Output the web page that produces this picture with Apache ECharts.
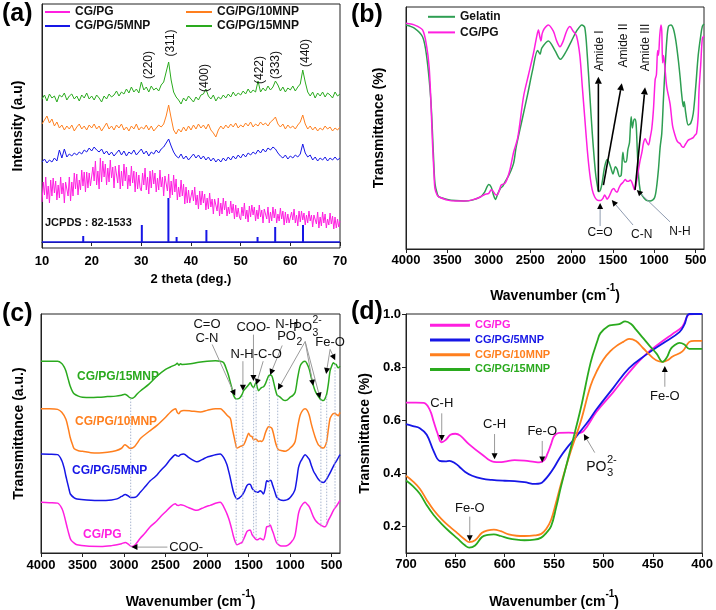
<!DOCTYPE html>
<html><head><meta charset="utf-8">
<script src="https://cdn.jsdelivr.net/npm/echarts@6/dist/echarts.min.js"></script>
<style>html,body{margin:0;padding:0;background:#fff}#c{width:716px;height:610px}</style>
</head><body><div id="c"></div>
<script>
const FONT = '"Liberation Sans", Arial, Helvetica, sans-serif';
const PINK = '#ff1fe0', BLUE = '#1616e6', ORANGE = '#ff7f1e', GREEN = '#2aaa1e', GEL = '#2e9e52';

// ---------- (a) XRD, 10..70 deg ----------
const xrdStart = 10, xrdStep = 0.5, xrdPGStep = 0.25;
const xrd15MNP = [143,147,141,148,144,146,140,147,145,149, 142,146,148,143,146,141,147,144,149,143,
 146,142,147,144,140,146,143,148,145,147, 151,146,150,148,153,149,155,150,153,149,
 160,152,155,150,156,152,154,151,157,160, 170,180,162,150,145,142,138,144,141,146,
 143,140,145,142,147,148,153,146,143,147, 141,145,143,147,144,148,145,150,146,149,
 147,151,148,153,149,152,150,161,150,154, 151,156,152,155,161,157,151,155,150,154,
 152,156,151,155,158,172,160,150,146,150, 144,149,146,150,145,149,147,144,150,146, 148];
const xrd10MNP = [118,122,126,119,123,116,120,114,117,112, 116,113,117,111,115,118,113,116,112,117,
 114,118,113,116,111,115,119,113,116,112, 117,114,118,112,115,111,116,113,118,112,
 115,113,117,112,116,111,114,117,115,118, 126,137,124,112,108,113,110,115,111,116,
 112,117,113,118,114,117,113,118,112,109, 105,112,116,113,117,114,118,115,119,114,
 117,115,119,116,120,115,118,116,120,117, 119,116,120,122,125,118,115,118,113,117,
 114,116,113,117,120,127,118,113,116,112, 115,111,114,112,116,113,115,111,114,112, 115];
const xrd5MNP = [80,83,79,82,80,84,81,92,84,93, 85,88,86,89,87,90,88,92,90,94,
 91,95,92,90,93,88,91,87,90,86, 89,92,87,91,86,90,88,92,87,90,
 93,88,91,86,90,88,92,89,93,95, 99,103,96,90,86,84,88,83,86,82,
 85,88,84,87,83,86,82,85,81,84, 80,83,80,84,81,85,82,86,83,87,
 84,88,85,89,87,90,88,92,89,93, 90,94,92,95,93,89,86,84,87,83,
 86,84,87,85,88,98,89,85,87,82, 85,81,84,82,85,81,84,82,85,82, 84];
const xrdPG = [
 40,60,47,65,43,56,39,62,46,64,49,61,42,57,44,65,48,59,39,60,
 61,46,65,41,60,46,69,53,68,47,62,52,72,56,70,50,70,54,69,56,
 54,75,61,81,57,71,53,84,60,81,65,78,57,74,60,82,64,75,54,76,
 75,59,77,53,71,56,78,61,75,53,67,56,76,59,71,50,70,53,67,54,
 51,69,57,74,52,65,48,71,54,72,58,69,50,64,52,72,55,65,46,66,
 66,51,68,44,61,47,67,50,63,42,55,45,62,46,58,38,55,39,52,39,
 37,52,41,55,37,47,33,51,37,51,39,48,32,44,33,49,35,43,28,43,
 42,31,44,26,39,28,44,32,41,26,35,28,41,29,38,23,37,25,34,25,
 22,35,26,39,23,32,20,36,25,37,27,35,21,32,23,37,25,32,19,33,
 34,23,35,19,30,21,35,24,33,19,28,21,34,23,31,17,30,19,28,19,
 18,30,22,33,19,27,16,31,20,31,22,29,17,27,19,31,21,27,15,27,
 28,18,30,14,25,16,30,19,28,14,23,17,29,18,26,13,25,14,23,15, 21];
const jcpdsAngles = [18.3, 30.1, 35.45, 37.1, 43.1, 53.4, 56.95, 62.55];
const jcpdsHeights = [6, 17, 44, 5, 12, 5, 15, 17];
const xrdPlanes = ['(220)','(311)','(400)','(422)','(333)','(440)'];
const xrdPlaneAngles = [31.5, 35.9, 42.8, 53.9, 57.05, 63.15];
const xrdPlaneLevels = [177, 199, 164, 172, 177, 189];

// ---------- (b) FTIR gelatin vs CG/PG ----------
const gelatinFTIR = [[4000,92.6],[3900,91.3],[3800,87.7],[3750,79.5],[3700,61.6],[3670,40],[3650,27],[3620,22.5],[3600,21.5],[3500,20.5],[3400,20],[3300,19.8],[3200,20.2],[3100,21.5],[3050,23.5],[3000,26.7],[2970,25.5],[2940,22],[2920,20.5],[2890,23],[2860,25],[2830,26],[2800,28],[2750,31],[2700,35.5],[2670,42],[2600,53],[2530,64],[2470,74],[2410,82],[2380,80.5],[2360,83],[2280,86],[2200,82],[2135,78.4],[2060,82],[2000,86],[1940,90],[1875,92.6],[1840,91.5],[1810,80],[1780,64],[1750,48],[1710,31.3],[1680,24.5],[1670,23.7],[1650,24.5],[1630,27.5],[1600,34],[1570,37],[1550,36],[1520,33],[1500,31],[1470,34],[1450,33],[1420,30],[1400,30.5],[1380,40],[1360,36],[1340,36],[1320,41],[1300,44],[1280,54.7],[1265,50],[1250,53],[1235,53.7],[1220,51.5],[1205,40],[1190,30],[1170,24],[1150,22.3],[1100,20.2],[1050,19.8],[1000,21],[975,25],[950,33],[930,42],[910,47.8],[890,62],[870,75],[850,86],[830,91.9],[800,92.6],[770,91],[740,86],[710,78],[690,71.5],[670,64],[650,58.8],[640,61],[620,56],[590,51.2],[560,52],[530,56],[500,67],[470,80],[440,88],[420,92],[400,93]];
const cgpgFTIR = [[4000,93.3],[3900,92.6],[3800,90.5],[3750,83.6],[3720,75],[3700,61.6],[3680,43.7],[3660,30],[3650,25],[3620,22],[3600,21.5],[3500,20.2],[3400,19.8],[3300,19.8],[3200,20.3],[3100,21.5],[3050,22.5],[3000,23],[2970,24.5],[2950,24],[2920,22.5],[2900,22.3],[2870,24.5],[2850,26.4],[2800,27.3],[2750,32],[2700,40],[2650,46],[2580,63],[2520,72],[2460,80.9],[2420,88],[2400,90.5],[2385,88],[2370,86],[2355,89],[2330,91],[2280,92.6],[2220,90],[2180,86],[2140,83.6],[2100,86],[2060,90],[2020,91.9],[1980,90],[1940,88],[1900,80],[1870,67],[1840,54],[1810,41],[1780,31],[1750,24.4],[1720,21.5],[1690,20.2],[1650,20],[1620,21],[1600,22.3],[1585,21.5],[1570,20.6],[1550,21.5],[1530,23],[1510,24.5],[1490,25],[1470,24],[1450,23.5],[1430,25],[1410,26.4],[1380,27.5],[1350,28.7],[1330,28],[1310,28],[1290,28.5],[1270,27.5],[1255,26],[1240,24.5],[1220,27],[1200,31],[1175,36],[1150,40],[1130,44],[1110,45.6],[1090,44],[1070,43],[1050,46],[1030,50],[1010,58],[990,70],[975,72],[960,82],[950,80],[935,88],[920,92.6],[910,90],[900,77],[890,80],[875,76],[850,67],[810,60],[780,51],[750,47],[730,45],[710,44],[690,43.6],[670,42.5],[650,42],[620,43.5],[590,45],[560,45.5],[530,46],[510,47],[490,47.8],[470,55],[460,65.7],[440,76],[420,87],[400,88]];

// ---------- (c) FTIR composites (offset, a.u.) ----------
const ftir15MNP = [[4000,195],[3900,195],[3800,195],[3750,192.7],[3720,189],[3700,185],[3670,176],[3650,170],[3620,164],[3600,161.7],[3550,159.5],[3500,158.4],[3400,158],[3300,158.4],[3200,159],[3100,159.5],[3030,160.5],[2990,161.5],[2960,160],[2930,158],[2900,157.4],[2870,159],[2840,162],[2800,165],[2700,171.7],[2600,180],[2500,186.7],[2420,190],[2380,191.5],[2360,193],[2340,191],[2320,192.5],[2300,191.7],[2200,192.4],[2100,194],[2000,195],[1900,195.5],[1840,195],[1800,193.4],[1760,185],[1740,180],[1720,173.4],[1700,167],[1680,160],[1650,156.7],[1620,157],[1600,158.4],[1580,161],[1560,165],[1520,169],[1500,171],[1480,173.4],[1460,170],[1440,168.4],[1420,172],[1410,173],[1395,168],[1380,165],[1360,167],[1340,168.4],[1320,169],[1300,171.7],[1280,176],[1260,180],[1240,181],[1220,180],[1200,174],[1180,166.7],[1160,161],[1150,160],[1120,158.4],[1090,156],[1060,155],[1030,156],[1000,158.4],[970,160],[940,163.4],[910,178],[880,190],[850,194],[820,195],[795,192],[770,186.7],[745,178],[720,170],[700,165],[680,161.7],[660,159],[640,156.7],[620,155.5],[600,155],[580,157],[560,161.7],[540,172],[520,185],[500,190],[480,193.4],[460,192],[445,191.7],[430,189],[420,188.4],[410,189],[400,190]];
const ftir10MNP = [[4000,146.7],[3900,146.7],[3800,146],[3750,143],[3700,136],[3670,126],[3650,118],[3620,110],[3600,106],[3550,104],[3500,103.4],[3400,102],[3300,101.7],[3200,102.5],[3100,104],[3030,106.5],[2990,110],[2960,108.5],[2930,106.5],[2900,106.7],[2870,108.5],[2840,112],[2800,116.7],[2700,123.5],[2600,130],[2500,138],[2440,143.4],[2400,146],[2380,146.7],[2360,143],[2340,141.7],[2320,144],[2280,145],[2200,144.5],[2080,143.4],[2000,145],[1900,146.7],[1840,146.7],[1800,144],[1760,140],[1720,136.7],[1700,128],[1680,120],[1660,112],[1640,106.7],[1600,108.4],[1560,110],[1520,118],[1500,121.7],[1480,119],[1460,118.4],[1440,115],[1420,116],[1400,115],[1380,113.4],[1360,114],[1340,113.4],[1320,116],[1300,121.7],[1280,126],[1260,128.4],[1240,128],[1220,126.7],[1200,121],[1180,113.4],[1160,108],[1140,105],[1100,104],[1060,103.4],[1030,104.5],[1000,106.7],[970,109],[940,113.4],[910,128],[880,140],[850,145],[820,146.7],[795,145],[770,140],[745,131],[720,123.4],[700,118],[680,113.4],[660,110],[640,108.4],[620,107],[600,106.7],[580,108.5],[560,113.4],[540,126],[520,136.7],[500,140],[480,141.7],[460,142],[445,141],[420,139.5],[410,141],[400,143]];
const ftir5MNP = [[4000,100.7],[3900,100.5],[3800,100],[3750,94],[3720,86],[3700,78],[3687,73.4],[3660,64],[3647,60],[3600,56],[3567,55],[3450,54],[3280,53.4],[3150,54],[3085,55],[3030,57.5],[2985,59.4],[2950,58],[2920,56.5],[2865,56.7],[2805,61.7],[2750,67],[2685,73.4],[2620,78],[2564,83.4],[2500,89],[2444,95],[2400,99],[2384,100],[2360,98.8],[2344,98.4],[2320,100],[2284,100.7],[2220,97],[2160,94],[2123,92.7],[2060,95],[2000,97.5],[1963,98.4],[1900,100],[1842,100.7],[1800,97],[1762,90],[1740,83],[1722,76.7],[1700,68],[1682,61.7],[1660,57],[1641,55],[1620,55.5],[1600,57],[1581,58.4],[1550,63],[1521,68.4],[1500,70],[1482,70],[1460,66],[1442,64],[1420,62.5],[1402,61.7],[1380,62],[1362,63.4],[1340,62],[1322,60],[1300,66],[1282,73.4],[1260,72.7],[1234,74],[1215,70],[1202,66.7],[1180,61],[1161,56.7],[1121,54],[1080,53.5],[1041,54],[1010,55.5],[981,58.4],[960,61],[940,65],[920,75],[900,86.7],[880,92],[860,95],[840,98],[820,100],[795,98],[768,95],[745,89],[720,83.4],[690,79],[660,75],[630,72.5],[599,71.7],[570,74],[539,78.4],[510,83],[479,88.4],[440,94],[400,100]];
const ftirPG = [[4000,51.7],[3900,51.2],[3800,50.7],[3747,45],[3720,38],[3687,26.7],[3660,18],[3640,13.4],[3600,10],[3567,8.4],[3450,7],[3280,6.7],[3150,7.5],[3085,8.4],[3030,9.5],[2985,10.7],[2950,9],[2920,7],[2900,6.7],[2865,8.4],[2805,15],[2750,20],[2685,26.7],[2620,31.5],[2564,36.7],[2500,42],[2444,46.7],[2384,50],[2360,48.5],[2344,48.4],[2320,49],[2284,48.4],[2220,46],[2160,44],[2123,43.4],[2060,45.5],[2000,47.5],[1963,48.4],[1900,50.5],[1842,51.7],[1800,47],[1762,40],[1740,35],[1722,30],[1700,23],[1682,16.7],[1660,11],[1641,8.4],[1620,9],[1600,10],[1581,10.7],[1550,16],[1521,21.7],[1500,23],[1482,23.4],[1460,19],[1442,16.7],[1420,14.5],[1402,13.4],[1380,14],[1362,15],[1340,14],[1322,13.4],[1300,19],[1282,26.7],[1260,27],[1241,28.4],[1220,24],[1202,20],[1180,14],[1161,10],[1121,7.4],[1080,7],[1041,7.4],[1010,9],[981,11.7],[960,14],[940,18.4],[920,29],[900,40],[880,45.5],[860,48.4],[840,50.5],[820,51.7],[795,49.5],[768,46.7],[745,42],[720,36.7],[690,32.5],[660,30],[630,28.4],[600,27],[580,26.7],[560,29],[539,33.4],[510,38],[479,43.4],[440,48],[400,53.4]];
const ftirSampleLabels = ['CG/PG/15MNP','CG/PG/10MNP','CG/PG/5MNP','CG/PG'];
const ftirSampleLabelPos = [[3567,179],[3590,134],[3627,84],[3494,19]];

// ---------- (d) FTIR zoom 700-400 ----------
const zoomPG = [[700,0.666],[690,0.666],[682,0.665],[676,0.64],[672,0.595],[668,0.55],[664,0.517],[660,0.525],[655,0.545],[650,0.549],[645,0.542],[636,0.509],[623,0.471],[611,0.443],[605,0.442],[600,0.444],[590,0.45],[580,0.448],[570,0.443],[565,0.441],[560,0.45],[557,0.471],[553,0.51],[550,0.54],[545,0.552],[535,0.553],[527,0.551],[520,0.56],[507,0.632],[490,0.706],[474,0.78],[457,0.848],[440,0.898],[430,0.925],[420,0.953],[413,0.999],[408,1.0],[400,1.0]];
const zoom5MNP = [[700,0.585],[693,0.578],[686,0.57],[679,0.545],[672,0.484],[666,0.447],[660,0.445],[656,0.447],[650,0.437],[646,0.425],[640,0.405],[633,0.391],[623,0.38],[613,0.375],[600,0.372],[590,0.371],[580,0.367],[569,0.36],[564,0.362],[560,0.373],[555,0.395],[550,0.422],[544,0.46],[537,0.496],[530,0.527],[524,0.555],[515,0.598],[507,0.641],[490,0.722],[474,0.796],[457,0.846],[440,0.889],[423,0.932],[418,0.96],[413,1.0],[400,1.0]];
const zoom10MNP = [[700,0.391],[693,0.37],[686,0.342],[679,0.3],[672,0.262],[664,0.228],[656,0.2],[648,0.175],[640,0.15],[636,0.141],[630,0.148],[623,0.176],[617,0.185],[611,0.188],[604,0.182],[596,0.17],[588,0.165],[580,0.164],[570,0.166],[563,0.172],[558,0.19],[553,0.225],[548,0.29],[543,0.36],[533,0.484],[523,0.595],[513,0.73],[506,0.79],[500,0.829],[493,0.86],[487,0.879],[480,0.895],[474,0.906],[467,0.898],[460,0.872],[450,0.835],[444,0.822],[440,0.82],[435,0.826],[430,0.84],[420,0.859],[413,0.895],[408,0.899],[400,0.899]];
const zoom15MNP = [[700,0.373],[693,0.352],[686,0.323],[679,0.28],[672,0.243],[664,0.21],[656,0.181],[648,0.155],[640,0.128],[636,0.12],[630,0.128],[623,0.16],[617,0.168],[611,0.17],[604,0.164],[596,0.155],[588,0.15],[580,0.148],[570,0.15],[563,0.158],[558,0.175],[553,0.201],[548,0.27],[543,0.35],[533,0.496],[523,0.644],[513,0.817],[506,0.9],[503,0.928],[495,0.955],[490,0.959],[484,0.962],[478,0.972],[472,0.962],[467,0.941],[460,0.91],[453,0.879],[446,0.85],[440,0.82],[436,0.835],[432,0.867],[428,0.882],[423,0.891],[418,0.885],[413,0.869],[400,0.869]];
const wnTicks = [4000,3500,3000,2500,2000,1500,1000,500];
const dTicksY = [0.2,0.4,0.6,0.8,1.0];

// ---------- annotations (data coordinates) ----------
const amideLabels = [['Amide I',1655,73.5],['Amide II',1374,75],['Amide III',1100,73.5]];
const amideArrows = [[1676,23.7,1676,71.2],[1615,26.4,1393,68.5],[1233,24.4,1112,66.8]];
const bCallTexts = [['C=O',1655,6.6],['C-N',1152,5.8],['N-H',690,7]];
const bCallArrows = [[1655,9.5,1655,19],[1257,9.9,1514,20.2],[810,11.2,1212,24.4]];
const cTexts = [['C=O',2002,232],['C-N',2002,218],['N-H-C-O',1409,202],['COO-',1442,229],['N-H',1040,232],['Fe-O',519,214],['COO-',2252,6]];
const cArrows = [[1939,212,1662,160],[1569,195,1569,165],[1442,222,1442,175],[1325,195,1409,171],[1096,211,1241,181],[819,215,1148,166],[819,215,723,170],[819,215,639,157],[519,207,567,182],[519,207,458,196],[2478,6,2911,6]];
const cGuides = [[2920,157,6],[1650,157,8],[1570,160,10],[1440,168,16],[1410,172,14],[1250,180,25],[1150,160,8],[630,156,27],[560,160,28],[460,192,45]];
const cPO2 = [930, 220], cPO3 = [737, 229];
const dTexts = [['C-H',663.8,0.663],['C-H',610.3,0.585],['Fe-O',562,0.559],['Fe-O',437.8,0.689],['Fe-O',635.4,0.268]];
const dArrows = [[663.8,0.626,663.8,0.522],[610.3,0.548,610.3,0.453],[562,0.522,562,0.441],[508.8,0.478,519.9,0.548],[437.8,0.726,437.8,0.804],[635.4,0.237,635.4,0.144]];
const dPO3 = [497, 0.422];

const xrdAt = (arr, step) => arr.map((v, i) => [xrdStart + i * step, v]);
const wnName = '{b|Wavenumber (cm}{s|-1}{b|)}';
const wnRich = {
  b: {fontSize: 14, fontWeight: 'bold', color: '#000', fontFamily: FONT, lineHeight: 20, verticalAlign: 'bottom'},
  s: {fontSize: 10, fontWeight: 'bold', color: '#000', fontFamily: FONT, lineHeight: 20, verticalAlign: 'top'}
};
const tickLab = (m) => ({fontSize: 13, fontWeight: 'bold', color: '#000', fontFamily: FONT, margin: m,
  formatter: v => String(v)});
const axLine = {show: true, lineStyle: {color: '#222', width: 1}};
const yName = (t, gap) => ({name: t, nameLocation: 'middle', nameGap: gap,
  nameTextStyle: {fontSize: 14, fontWeight: 'bold', color: '#000', fontFamily: FONT}});
const gridBox = {show: true, borderColor: '#222', borderWidth: 1, backgroundColor: 'transparent'};
const line = (name, xi, data, color, w, smooth) => ({type: 'line', name, xAxisIndex: xi, yAxisIndex: xi,
  data, symbol: 'none', smooth: smooth, lineStyle: {color, width: w}, itemStyle: {color}, silent: true, z: 3});
const legText = (fs, lh) => ({fontSize: fs, fontWeight: 'bold', color: '#111', fontFamily: FONT, lineHeight: lh});

const option = {
  animation: false,
  textStyle: {fontFamily: FONT},
  grid: [
    Object.assign({left: 42, top: 4, width: 298, height: 244}, gridBox),
    Object.assign({left: 406, top: 7, width: 298, height: 242}, gridBox),
    Object.assign({left: 41, top: 314, width: 299, height: 243}, gridBox),
    Object.assign({left: 406, top: 314, width: 298, height: 243}, gridBox)
  ],
  xAxis: [
    {gridIndex: 0, type: 'value', min: 10, max: 70, interval: 10, axisLine: axLine,
     axisTick: {length: 4, lineStyle: {color: '#222'}}, axisLabel: tickLab(7), splitLine: {show: false},
     name: '2 theta (deg.)', nameLocation: 'middle', nameGap: 25,
     nameTextStyle: {fontSize: 13, fontWeight: 'bold', color: '#000', fontFamily: FONT}},
    {gridIndex: 1, type: 'value', min: 400, max: 4000, inverse: true, axisLine: axLine,
     axisTick: {length: 4, customValues: wnTicks, lineStyle: {color: '#222'}},
     axisLabel: Object.assign(tickLab(5), {customValues: wnTicks}), splitLine: {show: false},
     name: wnName, nameLocation: 'middle', nameGap: 34, nameTextStyle: {rich: wnRich}},
    {gridIndex: 2, type: 'value', min: 400, max: 4000, inverse: true, axisLine: axLine,
     axisTick: {length: 4, customValues: wnTicks, lineStyle: {color: '#222'}},
     axisLabel: Object.assign(tickLab(6), {customValues: wnTicks}), splitLine: {show: false},
     name: wnName, nameLocation: 'middle', nameGap: 36, nameTextStyle: {rich: wnRich}},
    {gridIndex: 3, type: 'value', min: 400, max: 700, interval: 50, inverse: true, axisLine: axLine,
     axisTick: {length: 4, lineStyle: {color: '#222'}}, axisLabel: tickLab(5), splitLine: {show: false},
     name: wnName, nameLocation: 'middle', nameGap: 36, nameTextStyle: {rich: wnRich}}
  ],
  yAxis: [
    Object.assign({gridIndex: 0, type: 'value', min: -6, max: 238, axisLine: axLine, axisTick: {show: false},
     axisLabel: {show: false}, splitLine: {show: false}}, yName('Intensity (a.u)', 17)),
    Object.assign({gridIndex: 1, type: 'value', min: 0, max: 100, axisLine: axLine, axisTick: {show: false},
     axisLabel: {show: false}, splitLine: {show: false}}, yName('Transmittance (%)', 20)),
    Object.assign({gridIndex: 2, type: 'value', min: 0, max: 243, axisLine: axLine, axisTick: {show: false},
     axisLabel: {show: false}, splitLine: {show: false}}, yName('Transmittance (a.u.)', 15)),
    Object.assign({gridIndex: 3, type: 'value', min: 0.1, max: 1.0, axisLine: axLine,
     axisTick: {show: true, length: 4, customValues: dTicksY, lineStyle: {color: '#222'}},
     axisLabel: Object.assign(tickLab(5), {customValues: dTicksY, formatter: v => v.toFixed(1)}),
     splitLine: {show: false}}, yName('Transmittance (%)', 34))
  ],
  legend: [
    {left: 45, top: 5, padding: 0, orient: 'vertical', icon: 'rect', itemWidth: 25, itemHeight: 2, itemGap: 0,
     selectedMode: false, data: ['CG/PG', 'CG/PG/5MNP'], textStyle: legText(12, 14)},
    {left: 186, top: 5, padding: 0, orient: 'vertical', icon: 'rect', itemWidth: 26, itemHeight: 2, itemGap: 0,
     selectedMode: false, data: ['CG/PG/10MNP', 'CG/PG/15MNP'], textStyle: legText(12, 14)},
    {left: 428, top: 9, padding: 0, orient: 'vertical', icon: 'rect', itemWidth: 27, itemHeight: 2, itemGap: 0,
     selectedMode: false, data: ['Gelatin', 'CG/PG'], textStyle: legText(12, 15.6)},
    {left: 430, top: 318, padding: 0, orient: 'vertical', icon: 'rect', itemWidth: 40, itemHeight: 3, itemGap: 0,
     selectedMode: false, textStyle: legText(11, 14.7),
     data: [{name: 'CG/PG', textStyle: {color: PINK}}, {name: 'CG/PG/5MNP', textStyle: {color: BLUE}},
            {name: 'CG/PG/10MNP', textStyle: {color: ORANGE}}, {name: 'CG/PG/15MNP', textStyle: {color: GREEN}}]}
  ],
  series: [
    line('CG/PG', 0, xrdAt(xrdPG, xrdPGStep), PINK, 1, false),
    line('CG/PG/5MNP', 0, xrdAt(xrd5MNP, xrdStep), BLUE, 1, false),
    line('CG/PG/10MNP', 0, xrdAt(xrd10MNP, xrdStep), ORANGE, 1, false),
    line('CG/PG/15MNP', 0, xrdAt(xrd15MNP, xrdStep), GREEN, 1, false),
    {type: 'bar', name: 'JCPDS', xAxisIndex: 0, yAxisIndex: 0, barWidth: 2, silent: true,
     data: jcpdsAngles.map((a, i) => [a, jcpdsHeights[i]]), itemStyle: {color: BLUE},
     markLine: {silent: true, symbol: 'none', label: {show: false}, lineStyle: {color: BLUE, width: 1.5, type: 'solid'},
       data: [{yAxis: 0}]}},
    line('Gelatin', 1, gelatinFTIR, GEL, 1.5, 0.3),
    line('CG/PG', 1, cgpgFTIR, PINK, 1.5, 0.3),
    line('CG/PG/15MNP', 2, ftir15MNP, GREEN, 1.5, 0.3),
    line('CG/PG/10MNP', 2, ftir10MNP, ORANGE, 1.5, 0.3),
    line('CG/PG/5MNP', 2, ftir5MNP, BLUE, 1.5, 0.3),
    line('CG/PG', 2, ftirPG, PINK, 1.5, 0.3),
    line('CG/PG', 3, zoomPG, PINK, 1.8, 0.4),
    line('CG/PG/5MNP', 3, zoom5MNP, BLUE, 1.8, 0.4),
    line('CG/PG/10MNP', 3, zoom10MNP, ORANGE, 1.8, 0.4),
    line('CG/PG/15MNP', 3, zoom15MNP, GREEN, 1.8, 0.4)
  ]
};

const chart = echarts.init(document.getElementById('c'));
chart.setOption(option);

// ---------- annotation drawing through the axes ----------
const els = [];
const P = (g, x, y) => chart.convertToPixel({gridIndex: g}, [x, y]);
function txt(g, t, x, y, o) {
  o = o || {};
  const p = P(g, x, y);
  els.push({type: 'text', x: p[0], y: p[1], rotation: o.rot || 0, silent: true, z: 10,
    style: {text: t, fontSize: o.fs || 12, fontWeight: o.fw || 'normal', fontFamily: FONT,
      fill: o.color || '#111', align: o.align || 'center', verticalAlign: o.va || 'middle'}});
}
function arrow(g, a, lineColor, headColor, lw, hs) {
  const p1 = P(g, a[0], a[1]), p2 = P(g, a[2], a[3]);
  const ang = Math.atan2(p2[1] - p1[1], p2[0] - p1[0]);
  const bx = p2[0] - Math.cos(ang) * hs, by = p2[1] - Math.sin(ang) * hs;
  els.push({type: 'line', silent: true, z: 9, shape: {x1: p1[0], y1: p1[1], x2: bx, y2: by},
    style: {stroke: lineColor, lineWidth: lw}});
  const w = hs * 0.5;
  els.push({type: 'polygon', silent: true, z: 9, shape: {points: [[p2[0], p2[1]],
    [bx + Math.sin(ang) * w, by - Math.cos(ang) * w], [bx - Math.sin(ang) * w, by + Math.cos(ang) * w]]},
    style: {fill: headColor}});
}
function chem(g, x, y, fs, sub, sup) {
  const p = P(g, x, y);
  const base = {fontFamily: FONT, fill: '#111'};
  els.push({type: 'text', x: p[0], y: p[1], silent: true, z: 10,
    style: Object.assign({text: 'PO', fontSize: fs, align: 'right', verticalAlign: 'middle'}, base)});
  if (sup) els.push({type: 'text', x: p[0] + 0.5, y: p[1] - fs * 0.55, silent: true, z: 10,
    style: Object.assign({text: sup, fontSize: fs * 0.8, align: 'left', verticalAlign: 'middle'}, base)});
  if (sub) els.push({type: 'text', x: p[0] + 0.5, y: p[1] + fs * 0.4, silent: true, z: 10,
    style: Object.assign({text: sub, fontSize: fs * 0.8, align: 'left', verticalAlign: 'middle'}, base)});
}

// panel letters
[['(a)', 2, 2], ['(b)', 351, 3], ['(c)', 2, 302], ['(d)', 351, 300]].forEach(l => {
  els.push({type: 'text', x: l[1], y: l[2], silent: true,
    style: {text: l[0], fontSize: 25, fontWeight: 'bold', fontFamily: FONT, fill: '#000', align: 'left', verticalAlign: 'top'}});
});
// (a)
xrdPlanes.forEach((t, i) => txt(0, t, xrdPlaneAngles[i], xrdPlaneLevels[i], {rot: Math.PI / 2, fs: 12}));
txt(0, 'JCPDS : 82-1533', 10.6, 19, {fw: 'bold', fs: 11, align: 'left', color: '#111'});
// (b)
amideLabels.forEach(a => txt(1, a[0], a[1], a[2], {rot: Math.PI / 2, fs: 12, align: 'left'}));
amideArrows.forEach(a => arrow(1, a, '#000', '#000', 1.6, 7));
bCallTexts.forEach(a => txt(1, a[0], a[1], a[2], {fs: 12}));
bCallArrows.forEach(a => arrow(1, a, '#8f9bb0', '#000', 1, 6));
// (c)
cGuides.forEach(gd => {
  const p1 = P(2, gd[0], gd[1]), p2 = P(2, gd[0], gd[2]);
  els.push({type: 'line', silent: true, z: 4, shape: {x1: p1[0], y1: p1[1], x2: p2[0], y2: p2[1]},
    style: {stroke: '#a9b6cf', lineWidth: 1, lineDash: [1.5, 1.5]}});
});
cTexts.forEach(a => txt(2, a[0], a[1], a[2], {fs: 13}));
chem(2, cPO2[0], cPO2[1], 13, '2', null);
chem(2, cPO3[0], cPO3[1], 13, '3', '2-');
ftirSampleLabels.forEach((t, i) => txt(2, t, ftirSampleLabelPos[i][0], ftirSampleLabelPos[i][1],
  {fw: 'bold', fs: 12, color: [GREEN, ORANGE, BLUE, PINK][i], align: 'left'}));
cArrows.forEach(a => arrow(2, a, '#9a9a9a', '#000', 1, 6));
// (d)
dTexts.forEach(a => txt(3, a[0], a[1], a[2], {fs: 13}));
chem(3, dPO3[0], dPO3[1], 14, '3', '2-');
dArrows.forEach(a => arrow(3, a, '#9a9a9a', '#000', 1, 6));

chart.setOption({graphic: {elements: els}});
</script>
</body></html>
